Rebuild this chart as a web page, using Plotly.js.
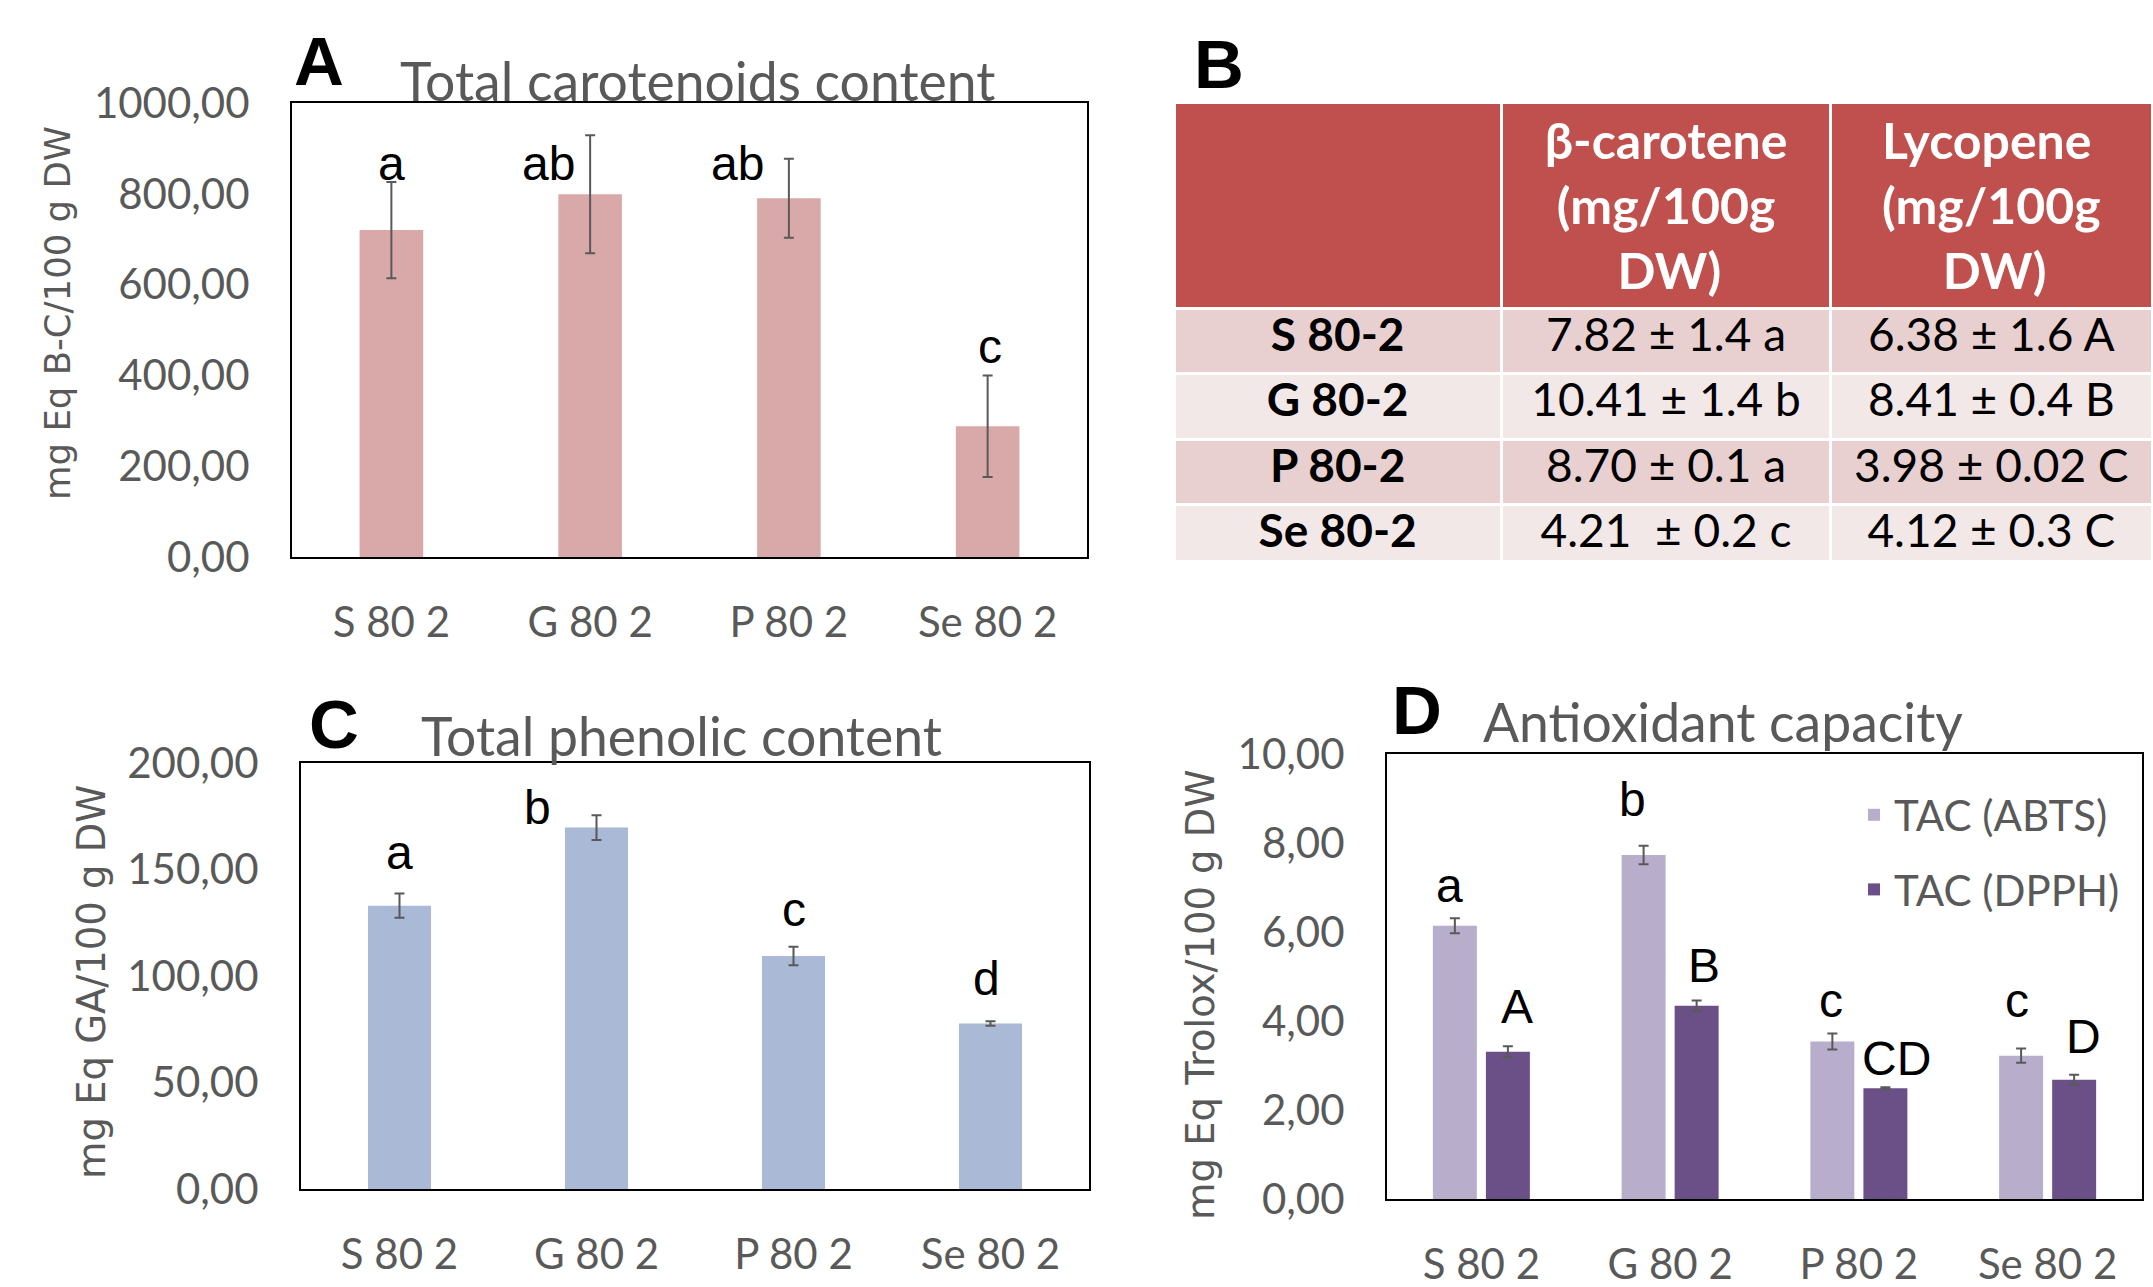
<!DOCTYPE html>
<html>
<head>
<meta charset="utf-8">
<script src="https://cdn.plot.ly/plotly-3.0.1.min.js"></script>
<style>html,body{margin:0;padding:0;background:#fff;}#chart{width:2153px;height:1287px;}</style>
</head>
<body>
<div id="chart"></div>
<script>
// ---------- data ----------
const categories = ['S 80 2', 'G 80 2', 'P 80 2', 'Se 80 2'];

const carotenoids = [720, 799, 790, 288];
const carotenoidsErr = [106, 130, 87, 112];
const carotenoidsLetters = ['a', 'ab', 'ab', 'c'];
const carotenoidsLetterY = [866, 866, 866, 464];
const carotenoidsLetterDx = [0, -0.21, -0.26, 0.01];

const phenolics = [133.0, 169.7, 109.4, 77.7];
const phenolicsErr = [5.7, 5.8, 4.3, 1.0];
const phenolicsLetters = ['a', 'b', 'c', 'd'];
const phenolicsLetterY = [158, 179, 131, 99];
const phenolicsLetterDx = [0, -0.30, 0, -0.02];

const tacAbts = [6.14, 7.73, 3.54, 3.22];
const tacAbtsErr = [0.17, 0.21, 0.18, 0.16];
const tacDpph = [3.31, 4.34, 2.49, 2.68];
const tacDpphErr = [0.12, 0.12, 0.02, 0.11];
const abtsLetters = ['a', 'b', 'c', 'c'];
const abtsLetterY = [7.04, 8.98, 4.47, 4.47];
const abtsLetterDx = [-0.17, -0.20, -0.15, -0.16];
const dpphLetters = ['A', 'B', 'CD', 'D'];
const dpphLetterY = [4.33, 5.25, 3.15, 3.66];
const dpphLetterDx = [0.19, 0.18, 0.20, 0.19];

const tableRowNames = ['S 80-2', 'G 80-2', 'P 80-2', 'Se 80-2'];
const betaCaroteneHeader = ['β-carotene', '(mg/100g', 'DW)'];
const lycopeneHeader = ['Lycopene', '(mg/100g', 'DW)'];
const betaCarotene = ['7.82 ± 1.4 a', '10.41 ± 1.4 b', '8.70 ± 0.1 a', '4.21  ± 0.2 c'];
const lycopene = ['6.38 ± 1.6 A', '8.41 ± 0.4 B', '3.98 ± 0.02 C', '4.12 ± 0.3 C'];

// ---------- styles ----------
const W = 2153, H = 1287;
const GRAY = '#595959';
const TXT = 'Lato, "Open Sans", sans-serif';
const LBL = '"DejaVu Sans", Verdana, sans-serif';
const ARIAL = '"Liberation Sans", Arial, sans-serif';
const px = v => v / W;
const py = v => 1 - v / H;
const NB = '\u00A0';
const noWrap = s => s.replace(/ /g, NB);

// centre each header line inside the (left-aligned) header text block
function centredHeader(lines, fontSize) {
  const probe = document.createElement('canvas').getContext('2d');
  probe.font = 'bold ' + fontSize + 'px Lato';
  const sp = probe.measureText(NB).width || fontSize * 0.2;
  const widths = lines.map(l => probe.measureText(l).width);
  const maxW = Math.max.apply(null, widths);
  return '<b>' + lines.map((l, i) => NB.repeat(Math.round((maxW - widths[i]) / 2 / sp)) + l).join('<br>') + '</b>';
}

function errStyle(arr) {
  return {type: 'data', array: arr, visible: true, color: GRAY, thickness: 2, width: 5};
}

const HEADER_FS = 50;
const traces = [
  {type: 'bar', x: categories, y: carotenoids, width: 0.32, marker: {color: '#d9a9aa'},
   error_y: errStyle(carotenoidsErr), xaxis: 'x', yaxis: 'y', showlegend: false, hoverinfo: 'y'},
  {type: 'bar', x: categories, y: phenolics, width: 0.32, marker: {color: '#a9b9d6'},
   error_y: errStyle(phenolicsErr), xaxis: 'x2', yaxis: 'y2', showlegend: false, hoverinfo: 'y'},
  {type: 'bar', name: 'TAC (ABTS)', x: categories, y: tacAbts, width: 0.233, offset: -0.257,
   marker: {color: '#b8aecb'}, error_y: errStyle(tacAbtsErr), xaxis: 'x3', yaxis: 'y3',
   legendgroup: 'g1', showlegend: true},
  {type: 'bar', name: 'TAC (DPPH)', x: categories, y: tacDpph, width: 0.233, offset: 0.024,
   marker: {color: '#6a5086'}, error_y: errStyle(tacDpphErr), xaxis: 'x3', yaxis: 'y3',
   legendgroup: 'g2', showlegend: true},
  {type: 'table',
   domain: {x: [px(1174), 1], y: [py(560), py(102)]},
   columnwidth: [327, 329, 321],
   header: {
     values: ['', centredHeader(betaCaroteneHeader, HEADER_FS), centredHeader(lycopeneHeader, HEADER_FS)],
     fill: {color: '#c0504d'},
     line: {color: '#ffffff', width: 3},
     align: 'center',
     height: 191,
     font: {family: TXT, size: HEADER_FS, color: '#ffffff'}
   },
   cells: {
     values: [tableRowNames.map(noWrap), betaCarotene.map(noWrap), lycopene.map(noWrap)],
     fill: {color: [['#e8d0d0', '#f3e8e8', '#e8d0d0', '#f3e8e8']]},
     line: {color: '#ffffff', width: 3},
     align: 'center',
     height: 65.5,
     font: {family: TXT, size: 46, color: '#000000', weight: ['bold', 'normal', 'normal']}
   }
  }
];

function yaxisDef(domain, range, dtick, anchor) {
  return {domain: domain, range: range, dtick: dtick, tick0: 0, tickformat: '.2f',
    showgrid: false, zeroline: false, showline: true, mirror: true, linecolor: '#000', linewidth: 2,
    ticks: '', ticklabelstandoff: 32, tickfont: {family: TXT, size: 42, color: GRAY},
    anchor: anchor, fixedrange: true};
}
function xaxisDef(domain, anchor) {
  return {domain: domain, type: 'category', range: [-0.5, 3.5], showgrid: false, zeroline: false,
    showline: true, mirror: true, linecolor: '#000', linewidth: 2, ticks: '',
    ticklabelstandoff: 28, tickfont: {family: TXT, size: 42, color: GRAY}, anchor: anchor, fixedrange: true};
}

const annotations = [];
function addLetters(letters, ys, dxs, xref, yref) {
  letters.forEach((t, i) => annotations.push({
    xref: xref, yref: yref, x: i + dxs[i], y: ys[i], text: t, showarrow: false,
    xanchor: 'center', yanchor: 'middle', font: {family: ARIAL, size: 48, color: '#000'}
  }));
}
addLetters(carotenoidsLetters, carotenoidsLetterY, carotenoidsLetterDx, 'x', 'y');
addLetters(phenolicsLetters, phenolicsLetterY, phenolicsLetterDx, 'x2', 'y2');
addLetters(abtsLetters, abtsLetterY, abtsLetterDx, 'x3', 'y3');
addLetters(dpphLetters, dpphLetterY, dpphLetterDx, 'x3', 'y3');

function paperText(text, x, y, font, angle) {
  annotations.push({xref: 'paper', yref: 'paper', x: px(x), y: py(y), text: text, showarrow: false,
    xanchor: 'center', yanchor: 'middle', font: font, textangle: angle || 0});
}
const panelFont = {family: ARIAL, size: 69, color: '#000'};
const titleFont = {family: TXT, size: 53.5, color: GRAY};
paperText('<b>A</b>', 319, 62, panelFont);
paperText('<b>B</b>', 1219, 65, panelFont);
paperText('<b>C</b>', 334, 724, panelFont);
paperText('<b>D</b>', 1417, 710, panelFont);
paperText('Total carotenoids content', 698, 80, titleFont);
paperText('Total phenolic content', 681, 735, titleFont);
paperText('Antioxidant capacity', 1723, 721, titleFont);
paperText('mg Eq B-C/100 g DW', 58, 313, {family: LBL, size: 35.5, color: GRAY}, -90);
paperText('mg Eq GA/100 g DW', 91, 982, {family: LBL, size: 38.5, color: GRAY}, -90);
paperText('mg Eq Trolox/100 g DW', 1201, 995, {family: LBL, size: 38.5, color: GRAY}, -90);

const layout = {
  width: W, height: H,
  margin: {l: 0, r: 0, t: 0, b: 0, pad: 0},
  paper_bgcolor: '#ffffff', plot_bgcolor: '#ffffff',
  separators: ', ',
  barmode: 'overlay',
  xaxis: xaxisDef([px(292), px(1087)], 'y'),
  yaxis: yaxisDef([py(557), py(103)], [0, 1000], 200, 'x'),
  xaxis2: xaxisDef([px(301), px(1089)], 'y2'),
  yaxis2: yaxisDef([py(1189), py(763)], [0, 200], 50, 'x2'),
  xaxis3: xaxisDef([px(1387), px(2142)], 'y3'),
  yaxis3: yaxisDef([py(1199), py(754)], [0, 10], 2, 'x3'),
  showlegend: true,
  legend: {x: px(1854), y: py(781), xanchor: 'left', yanchor: 'top', bgcolor: 'rgba(0,0,0,0)',
    font: {family: TXT, size: 42, color: GRAY}, tracegroupgap: 17, traceorder: 'grouped'},
  annotations: annotations
};

Plotly.newPlot('chart', traces, layout, {displayModeBar: false, staticPlot: true});
</script>
</body>
</html>
